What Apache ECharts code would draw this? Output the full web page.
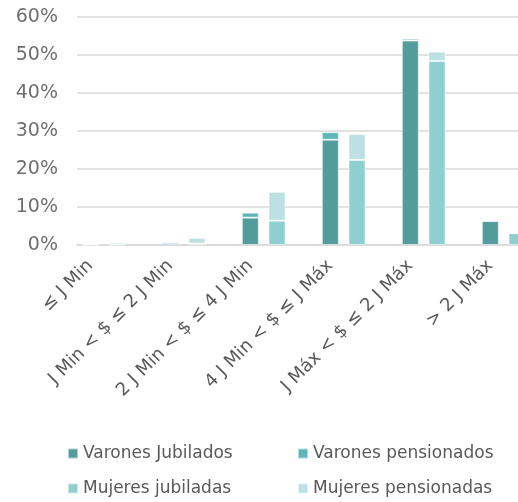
<!DOCTYPE html>
<html>
<head>
<meta charset="utf-8">
<script src="https://cdn.jsdelivr.net/npm/echarts@6/dist/echarts.min.js"></script>
<style>
  html, body { margin: 0; padding: 0; background: #fff; }
  #chart { width: 518px; height: 502px; }
</style>
</head>
<body>
<div id="chart"></div>
<script>
// tramos de haber
var categories = ['≤ J Min', 'J Min < $ ≤ 2 J Min', '2 J Min < $ ≤ 4 J Min', '4 J Min < $ ≤ J Máx', 'J Máx < $ ≤ 2 J Máx', '> 2 J Máx'];
// porcentajes
var varonesJubilados = [0.1, 0.5, 7.2, 27.7, 53.8, 6.3];
var varonesPensionados = [0.1, 0.35, 1.3, 2.0, 0.5, 0.1];
var mujeresJubiladas = [0.1, 0.4, 6.4, 22.4, 48.4, 3.1];
var mujeresPensionadas = [0.5, 1.5, 7.6, 6.8, 2.5, 0];
var yTicks = [0, 10, 20, 30, 40, 50, 60];

var colors = ['#539b9c', '#5fb6b7', '#8ecfd0', '#bce1e2'];

// cada tramo ocupa 3 lugares: varones, mujeres, hueco
var slots = [];
categories.forEach(function (c) { slots.push(c, '', ''); });

function spread(values, pos) {
    var out = [];
    values.forEach(function (v) {
        for (var k = 0; k < 3; k++) out.push(k === pos ? v : '-');
    });
    return out;
}

var font = 'DejaVu Sans';
var chart = echarts.init(document.getElementById('chart'));

function bar(name, values, pos, color) {
    return {
        name: name,
        type: 'bar',
        stack: 'total',
        barWidth: 17,
        data: spread(values, pos),
        itemStyle: { color: color, borderColor: 'rgba(255,255,255,0.55)', borderWidth: 1 }
    };
}

chart.setOption({
    animation: false,
    textStyle: { fontFamily: font },
    grid: { left: 77, top: 17, width: 480, height: 228, outerBoundsMode: 'none' },
    legend: [{
        data: ['Varones Jubilados', 'Mujeres jubiladas'],
        orient: 'vertical', left: 62, top: 440, itemGap: 18,
        itemWidth: 10, itemHeight: 10, icon: 'rect',
        textStyle: { color: '#595959', fontSize: 17, fontFamily: font }
    }, {
        data: ['Varones pensionados', 'Mujeres pensionadas'],
        orient: 'vertical', left: 292, top: 440, itemGap: 18,
        itemWidth: 10, itemHeight: 10, icon: 'rect',
        textStyle: { color: '#595959', fontSize: 17, fontFamily: font }
    }],
    xAxis: {
        type: 'category',
        data: slots,
        axisLine: { lineStyle: { color: '#d9d9d9', width: 1.5 } },
        axisTick: { show: false },
        axisLabel: {
            interval: 0, rotate: 45, margin: 18,
            color: '#595959', fontSize: 18, fontFamily: font
        }
    },
    yAxis: {
        type: 'value',
        min: yTicks[0], max: yTicks[yTicks.length - 1], interval: 10,
        axisLine: { show: false },
        axisTick: { show: false },
        splitLine: { lineStyle: { color: '#d9d9d9', width: 1.5 } },
        axisLabel: {
            margin: 19, color: '#6f6f6f', fontSize: 19, fontFamily: font,
            formatter: '{value}%'
        }
    },
    series: [
        bar('Varones Jubilados', varonesJubilados, 0, colors[0]),
        bar('Varones pensionados', varonesPensionados, 0, colors[1]),
        bar('Mujeres jubiladas', mujeresJubiladas, 1, colors[2]),
        bar('Mujeres pensionadas', mujeresPensionadas, 1, colors[3])
    ]
});
</script>
</body>
</html>
